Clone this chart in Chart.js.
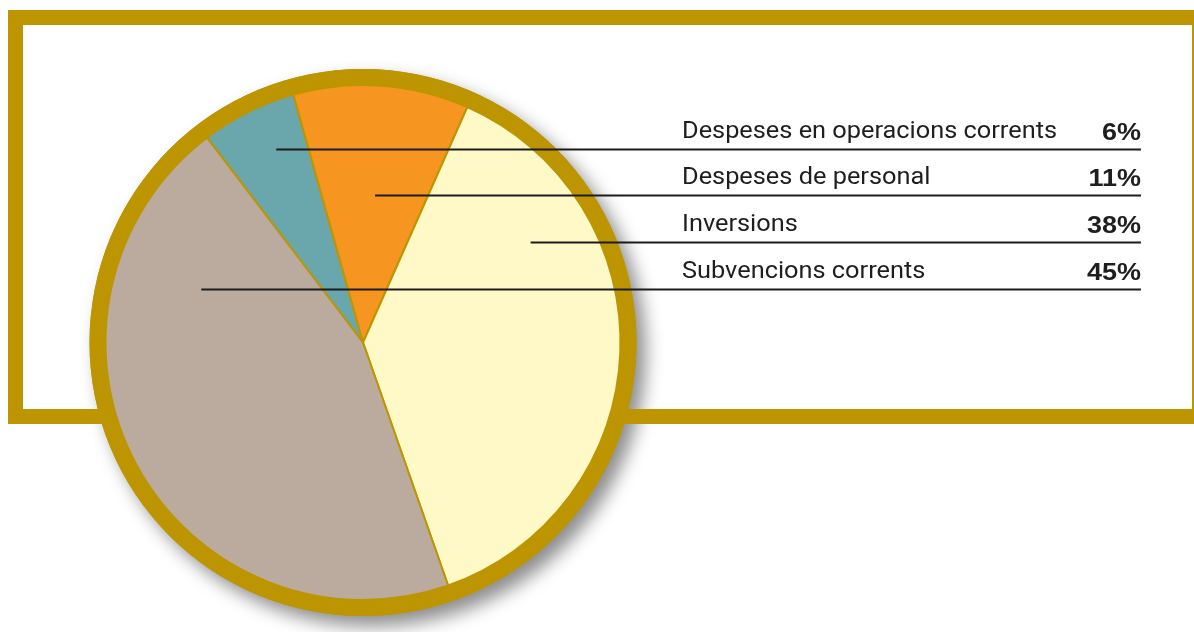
<!DOCTYPE html>
<html>
<head>
<meta charset="utf-8">
<script src="https://cdn.jsdelivr.net/npm/chart.js@4/dist/chart.umd.min.js"></script>
<style>
  html, body { margin: 0; padding: 0; background: #fff; }
  #wrap { width: 1194px; height: 632px; position: relative; }
</style>
</head>
<body>
<div id="wrap"><canvas id="pie"></canvas></div>
<script>
// Chart data
const categories = ['Despeses en operacions corrents', 'Despeses de personal', 'Inversions', 'Subvencions corrents'];
const shares = [6, 11, 38, 45];
const shareLabels = ['6%', '11%', '38%', '45%'];
const sliceColors = ['#6AA7AD', '#F6951F', '#FEF9C6', '#BBAB9E'];

const GOLD = '#BD9500';
const RING_WIDTH = 16;

// leader lines: start point inside each slice, relative to pie centre / radius
const leaderStart = [-0.337, 0.047, 0.651, -0.628];
const leaderRow = [-0.752, -0.571, -0.390, -0.209];

function pieGeometry(chart) {
  const arc = chart.getDatasetMeta(0).data[0];
  return arc.getProps(['x', 'y', 'outerRadius'], true);
}

function circle(ctx, x, y, r) {
  ctx.beginPath();
  ctx.arc(x, y, r, 0, Math.PI * 2);
  ctx.closePath();
}

const frameAndRing = {
  id: 'frameAndRing',
  beforeDatasetsDraw(chart) {
    const ctx = chart.ctx;
    const { x, y, outerRadius } = pieGeometry(chart);
    const ringR = outerRadius + RING_WIDTH;

    // soft drop shadow under the disc
    ctx.save();
    ctx.shadowColor = 'rgba(0, 0, 0, 0.45)';
    ctx.shadowBlur = 18;
    ctx.shadowOffsetX = 9;
    ctx.shadowOffsetY = 10;
    ctx.fillStyle = GOLD;
    circle(ctx, x, y, ringR);
    ctx.fill();
    ctx.restore();

    // golden frame behind the pie
    ctx.save();
    ctx.fillStyle = GOLD;
    ctx.fillRect(8, 10, 1186, 15);
    ctx.fillRect(8, 10, 15, 414);
    ctx.fillRect(8, 409, 1186, 15);
    ctx.fillRect(1192, 10, 2, 414);

    // ring
    circle(ctx, x, y, ringR);
    ctx.fill();
    ctx.restore();
  },
  afterDatasetsDraw(chart) {
    const ctx = chart.ctx;
    const { x, y, outerRadius } = pieGeometry(chart);
    const textX = 682;
    const rightX = 1141;

    ctx.save();
    ctx.font = '24px Roboto';
    const sx = 375 / ctx.measureText(categories[0]).width;
    ctx.font = 'bold 24px "Liberation Sans"';
    const px = 54 / ctx.measureText('45%').width;

    categories.forEach((name, i) => {
      const ly = Math.round(y + leaderRow[i] * outerRadius) + 0.5;
      const lx = x + leaderStart[i] * outerRadius;

      ctx.strokeStyle = '#1c1c1c';
      ctx.lineWidth = 2;
      ctx.beginPath();
      ctx.moveTo(lx, ly);
      ctx.lineTo(rightX, ly);
      ctx.stroke();

      ctx.fillStyle = '#1e1e1e';
      ctx.textBaseline = 'alphabetic';

      ctx.save();
      ctx.translate(textX, ly - 12);
      ctx.scale(sx, 1);
      ctx.font = '24px Roboto';
      ctx.textAlign = 'left';
      ctx.fillText(name, 0, 0);
      ctx.restore();

      ctx.save();
      ctx.translate(rightX, ly - 10);
      ctx.scale(px, 1);
      ctx.font = 'bold 24px "Liberation Sans"';
      ctx.textAlign = 'right';
      ctx.fillText(shareLabels[i], 0, 0);
      ctx.restore();
    });
    ctx.restore();
  }
};

new Chart(document.getElementById('pie'), {
  type: 'pie',
  data: {
    labels: categories,
    datasets: [{
      data: shares,
      backgroundColor: sliceColors,
      borderColor: GOLD,
      borderWidth: 2
    }]
  },
  options: {
    responsive: true,
    maintainAspectRatio: false,
    animation: false,
    rotation: -37.3,
    layout: {
      padding: { left: 104, top: 84, right: 572, bottom: 31 }
    },
    plugins: {
      legend: { display: false },
      tooltip: { enabled: false }
    }
  },
  plugins: [frameAndRing]
});
</script>
</body>
</html>
